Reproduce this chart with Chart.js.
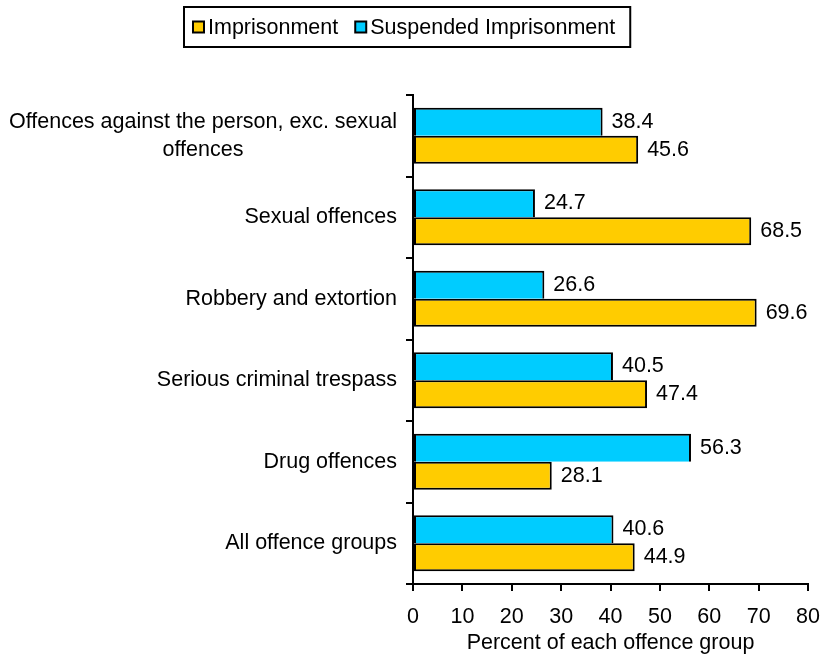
<!DOCTYPE html>
<html>
<head>
<meta charset="utf-8">
<script src="https://cdn.jsdelivr.net/npm/chart.js@4/dist/chart.umd.min.js"></script>
<style>
  html, body { margin: 0; padding: 0; background: #fff; }
  canvas { display: block; }
</style>
</head>
<body>
<canvas id="chart" width="823" height="658"></canvas>
<script>
const categories = [
  ['Offences against the person, exc. sexual', 'offences'],
  'Sexual offences',
  'Robbery and extortion',
  'Serious criminal trespass',
  'Drug offences',
  'All offence groups'
];
const suspendedValues = [38.4, 24.7, 26.6, 40.5, 56.3, 40.6];
const imprisonmentValues = [45.6, 68.5, 69.6, 47.4, 28.1, 44.9];
const xMin = 0, xMax = 80, xStep = 10;
const xTitle = 'Percent of each offence group';

const FONT_FAMILY = '"Liberation Sans", Arial, sans-serif';
const FONT_SIZE = 21.5;
const FONT = FONT_SIZE + 'px ' + FONT_FAMILY;

// value printed just past the end of each bar
const valueLabels = {
  id: 'valueLabels',
  afterDatasetsDraw(chart) {
    const ctx = chart.ctx;
    ctx.save();
    ctx.font = FONT;
    ctx.fillStyle = '#000';
    ctx.textAlign = 'left';
    ctx.textBaseline = 'middle';
    chart.data.datasets.forEach((ds, di) => {
      chart.getDatasetMeta(di).data.forEach((bar, i) => {
        ctx.fillText(ds.data[i].toFixed(1), bar.x + 9, bar.y);
      });
    });
    ctx.restore();
  }
};

// category names, each block right-aligned with its lines centred
const categoryLabels = {
  id: 'categoryLabels',
  afterDraw(chart) {
    const ctx = chart.ctx;
    const y = chart.scales.y;
    const right = chart.chartArea.left - 16;
    const lineH = 28;
    ctx.save();
    ctx.font = FONT;
    ctx.fillStyle = '#000';
    ctx.textAlign = 'center';
    ctx.textBaseline = 'middle';
    chart.data.labels.forEach((lab, i) => {
      const lines = Array.isArray(lab) ? lab : [lab];
      const w = Math.max(...lines.map(l => ctx.measureText(l).width));
      const cx = right - w / 2;
      const cy = y.getPixelForValue(i);
      const y0 = cy - (lines.length - 1) * lineH / 2;
      lines.forEach((l, k) => ctx.fillText(l, cx, y0 + k * lineH));
    });
    ctx.restore();
  }
};

// boxed legend at the top, imprisonment listed first
const boxLegend = {
  id: 'boxLegend',
  afterDraw(chart) {
    const ctx = chart.ctx;
    const items = chart.data.datasets.slice().reverse();
    const sq = 11, gap = 4, between = 17, padL = 9, padR = 15;
    const top = 7, h = 40;
    ctx.save();
    ctx.font = FONT;
    let w = padL + padR;
    items.forEach((ds, i) => {
      w += sq + gap + ctx.measureText(ds.label).width + (i ? between : 0);
    });
    let x = Math.round(chart.width / 2 - 4 - w / 2);
    ctx.fillStyle = '#fff';
    ctx.fillRect(x, top, w, h);
    ctx.lineWidth = 2;
    ctx.strokeStyle = '#000';
    ctx.strokeRect(x, top, w, h);
    const cy = top + h / 2;
    x += padL;
    ctx.textAlign = 'left';
    ctx.textBaseline = 'middle';
    items.forEach((ds, i) => {
      if (i) x += between;
      ctx.fillStyle = ds.backgroundColor;
      ctx.fillRect(x, cy - sq / 2, sq, sq);
      ctx.strokeRect(x, cy - sq / 2, sq, sq);
      x += sq + gap;
      ctx.fillStyle = '#000';
      ctx.fillText(ds.label, x, cy + 1);
      x += ctx.measureText(ds.label).width;
    });
    ctx.restore();
  }
};

new Chart(document.getElementById('chart'), {
  type: 'bar',
  data: {
    labels: categories,
    datasets: [
      {
        label: 'Suspended Imprisonment',
        data: suspendedValues,
        backgroundColor: '#00CCFF',
        borderColor: '#000',
        borderWidth: 2,
        borderSkipped: 'bottom'
      },
      {
        label: 'Imprisonment',
        data: imprisonmentValues,
        backgroundColor: '#FFCC00',
        borderColor: '#000',
        borderWidth: 2,
        borderSkipped: false
      }
    ]
  },
  options: {
    indexAxis: 'y',
    responsive: false,
    devicePixelRatio: 1,
    animation: false,
    layout: { padding: { top: 95, right: 15, left: 0, bottom: 0 } },
    datasets: { bar: { categoryPercentage: 0.69, barPercentage: 1.0 } },
    plugins: {
      legend: { display: false },
      tooltip: { enabled: false }
    },
    scales: {
      x: {
        min: xMin,
        max: xMax,
        ticks: {
          stepSize: xStep,
          color: '#000',
          font: { family: FONT_FAMILY, size: FONT_SIZE },
          padding: 13
        },
        grid: { drawOnChartArea: false, color: '#000', lineWidth: 2, tickLength: 7 },
        border: { display: true, color: '#000', width: 2 },
        title: {
          display: true,
          text: xTitle,
          color: '#000',
          font: { family: FONT_FAMILY, size: FONT_SIZE, lineHeight: 1.2 },
          padding: { top: 0, bottom: 2 }
        },
        afterFit(s) {
          s.height = 74;
          s.paddingLeft = 0;
          s.paddingRight = 0;
        }
      },
      y: {
        ticks: { display: false },
        grid: { offset: true, drawOnChartArea: false, color: '#000', lineWidth: 2, tickLength: 7 },
        border: { display: true, color: '#000', width: 2 },
        afterFit(s) { s.width = 413; }
      }
    }
  },
  plugins: [valueLabels, categoryLabels, boxLegend]
});
</script>
</body>
</html>
